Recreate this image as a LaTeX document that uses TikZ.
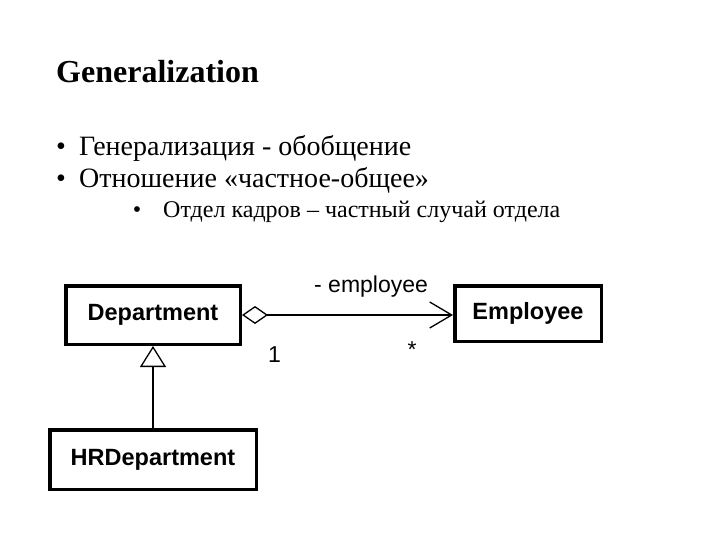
\documentclass[tikz,border=0pt]{standalone}
\usepackage{fontspec}
\setmainfont{Liberation Serif}
\newfontfamily\umlfont{Liberation Sans}
\usetikzlibrary{arrows.meta}

\tikzset{
  classbox/.style={draw, line width=3.5pt, inner sep=0pt,
    font=\umlfont\bfseries\fontsize{23.5}{27}\selectfont},
  rolelabel/.style={inner sep=0pt, font=\umlfont\fontsize{23}{27}\selectfont},
  slidetext/.style={anchor=base west, inner sep=0pt},
  umlline/.style={line width=1.3pt},
}

\begin{document}
\begin{tikzpicture}[x=1pt,y=-1pt]
\useasboundingbox (0,0) rectangle (720,540);
\node [slidetext, font=\bfseries\fontsize{32}{38}\selectfont] (title) at (56,83) {Generalization};
\node [slidetext, font=\fontsize{28}{34}\selectfont] (dotA) at (56,156) {\textbullet};
\node [slidetext, font=\fontsize{28}{34}\selectfont] (itemA) at (79,156) {Генерализация - обобщение};
\node [slidetext, font=\fontsize{28}{34}\selectfont] (dotB) at (56,188) {\textbullet};
\node [slidetext, font=\fontsize{28}{34}\selectfont] (itemB) at (79,188) {Отношение «частное-общее»};
\node [anchor=base, inner sep=0pt, font=\fontsize{24}{28}\selectfont] (dotC) at (137,218) {\textbullet};
\node [slidetext, font=\fontsize{24}{28}\selectfont] (itemC) at (163,218) {Отдел кадров – частный случай отдела};

\node [classbox, minimum width=174.5pt, minimum height=58.5pt] (dept) at (153,315) {Department};
\node [classbox, minimum width=146.5pt, minimum height=55.5pt] (emp) at (528,313.5) {Employee};
\node [classbox, minimum width=206.5pt, minimum height=59.5pt] (hrdept) at (153,459.5) {HRDepartment};

\draw [umlline, {Diamond[open,length=26pt,width=18pt,fill=white]}-{Straight Barb[length=22pt,width=26pt]}]
  (dept.east) -- (dept.east -| emp.west);
\draw [umlline, -{Triangle[open,length=21pt,width=26pt,fill=white]}] (hrdept.north) -- (dept.south);

\node [rolelabel, anchor=base west] (rolename) at (314,292) {- employee};
\node [rolelabel, anchor=base west] (multdept) at (268,362) {1};
\node [rolelabel] (multemp) at (412,350) {*};
\end{tikzpicture}
\end{document}
